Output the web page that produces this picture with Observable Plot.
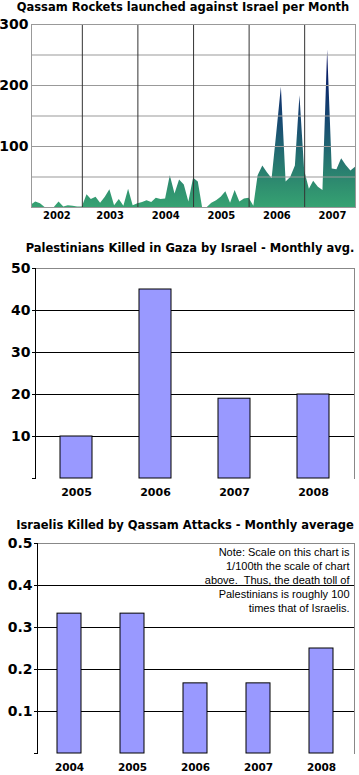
<!DOCTYPE html>
<html><head><meta charset="utf-8">
<script src="https://cdn.jsdelivr.net/npm/d3@7"></script>
<script src="https://cdn.jsdelivr.net/npm/@observablehq/plot@0.6"></script>
<style>
body{margin:0;background:#fff;}
#wrap{position:relative;width:359px;height:775px;overflow:hidden;font-family:"DejaVu Sans",Verdana,sans-serif;background:#fff;}
.title{position:absolute;transform:translateX(-50%);font-weight:bold;font-size:11.5px;line-height:14px;white-space:nowrap;color:#000;}
.chart{position:absolute;left:0;}
</style></head><body><div id="wrap"></div>
<script>
// ---------- Data ----------
const rocketTitle = "Qassam Rockets launched against Israel per Month";
const rocketStart = "2002-02-01";
const rocketCounts = [
  4, 9, 6, 0, 0, 0, 9, 1, 3, 2, 1,              // 2002 (Feb-Dec)
  1, 21, 13, 17, 7, 17, 29, 3, 13, 2, 30, 3,    // 2003
  6, 8, 11, 8, 15, 13, 14, 52, 22, 45, 37, 9,   // 2004
  48, 42, 0, 0, 7, 11, 17, 26, 7, 28, 9, 14,    // 2005
  15, 2, 52, 68, 57, 47, 120, 197, 42, 49, 68, 183, // 2006
  60, 30, 43, 33, 28, 258, 63, 62, 80, 69, 60, 66   // 2007
];
const rocketYearLabels = ["2002", "2003", "2004", "2005", "2006", "2007"];
const rocketYTicks = [100, 200, 300];
const rocketGrid = [50, 100, 150, 200, 250];

const gazaTitle = "Palestinians Killed in Gaza by Israel - Monthly avg.";
const gazaYears = ["2005", "2006", "2007", "2008"];
const gazaKilled = [10, 45, 19, 20];
const gazaTicks = [10, 20, 30, 40, 50];

const israelTitle = "Israelis Killed by Qassam Attacks - Monthly average";
const israelYears = ["2004", "2005", "2006", "2007", "2008"];
const israelKilled = [0.333, 0.333, 0.167, 0.167, 0.25];
const israelTicks = [0.1, 0.2, 0.3, 0.4, 0.5];
const noteLines = [
  "Note: Scale on this chart is",
  "1/100th the scale of chart",
  "above.  Thus, the death toll of",
  "Palestinians is roughly 100",
  "times that of Israelis."
];

// ---------- Helpers ----------
const wrap = document.getElementById("wrap");
function addTitle(text, centerX, top) {
  const d = document.createElement("div");
  d.className = "title";
  d.textContent = text;
  d.style.left = centerX + "px";
  d.style.top = top + "px";
  wrap.appendChild(d);
}
function addChart(svg, top) {
  svg.classList.add("chart");
  svg.style.top = top + "px";
  wrap.appendChild(svg);
}
const baseStyle = {fontFamily: "'DejaVu Sans', Verdana, sans-serif", fontSize: "13px", color: "black", background: "white", overflow: "visible"};

// ---------- Chart 1: rockets ----------
const months = rocketCounts.map((v, i) => ({date: d3.utcMonth.offset(new Date(rocketStart), i), value: v}));
const xStart = months[0].date, xEnd = months[months.length - 1].date;
const yearBounds = d3.utcYear.range(d3.utcYear.ceil(xStart), xEnd);
const yearLabelDates = rocketYearLabels.map(y => {
  const a = new Date(Date.UTC(+y, 0, 1));
  const s = a < xStart ? xStart : a;
  const e = new Date(Date.UTC(+y + 1, 0, 1));
  return new Date((+s + +e) / 2);
});

const p1 = Plot.plot({
  width: 359, height: 210,
  marginTop: 8, marginBottom: 19, marginLeft: 31, marginRight: 4,
  style: baseStyle,
  x: {type: "utc", domain: [xStart, xEnd], axis: null},
  y: {domain: [0, 300], axis: null},
  marks: [
    Plot.areaY(months, {x: "date", y: "value", fill: "url(#rocketGrad)"}),
    Plot.ruleY(rocketGrid, {stroke: "#999", strokeWidth: 1}),
    Plot.ruleX(yearBounds, {stroke: "#333", strokeWidth: 1}),
    Plot.frame({stroke: "#999"}),
    Plot.axisY(rocketYTicks, {label: null, tickSize: 0, tickPadding: 3, fontSize: 14, fontWeight: "bold"}),
    Plot.axisX(yearLabelDates, {label: null, tickSize: 0, tickPadding: 4, fontSize: 10, fontWeight: "bold",
      tickFormat: d => String(d.getUTCFullYear())})
  ]
});
// gradient keyed to values
{
  const ys = p1.scale("y");
  const ns = "http://www.w3.org/2000/svg";
  const defs = document.createElementNS(ns, "defs");
  const lg = document.createElementNS(ns, "linearGradient");
  lg.setAttribute("id", "rocketGrad");
  lg.setAttribute("gradientUnits", "userSpaceOnUse");
  lg.setAttribute("x1", 0); lg.setAttribute("x2", 0);
  lg.setAttribute("y1", ys.apply(0)); lg.setAttribute("y2", ys.apply(260));
  const stops = [[0, "#36a272"], [0.15, "#2e8c6f"], [0.3, "#257370"], [0.5, "#1a5072"], [0.77, "#0c2a6b"], [1, "#02085c"]];
  for (const [o, c] of stops) {
    const s = document.createElementNS(ns, "stop");
    s.setAttribute("offset", o); s.setAttribute("stop-color", c);
    lg.appendChild(s);
  }
  defs.appendChild(lg);
  p1.insertBefore(defs, p1.firstChild);
}

// ---------- Chart 2: Palestinians ----------
const gazaData = gazaYears.map((y, i) => ({year: y, value: gazaKilled[i]}));
const p2 = Plot.plot({
  width: 359, height: 245,
  marginTop: 10, marginBottom: 25, marginLeft: 35, marginRight: 5,
  style: baseStyle,
  x: {domain: gazaYears, paddingInner: 0.6, paddingOuter: 0.3, axis: null},
  y: {domain: [0, 50], axis: null},
  marks: [
    Plot.ruleY(gazaTicks.slice(0, -1), {stroke: "black"}),
    Plot.frame({anchor: "top", stroke: "#888"}),
    Plot.frame({anchor: "right", stroke: "#888"}),
    Plot.barY(gazaData, {x: "year", y: "value", fill: "#9999ff", stroke: "black", strokeWidth: 1}),
    Plot.frame({anchor: "left", stroke: "black"}),
    Plot.axisY([0, ...gazaTicks], {label: null, tickSize: 3, tickPadding: 2, fontSize: 14, fontWeight: "bold",
      tickFormat: d => d === 0 ? "" : String(d)}),
    Plot.axisX(gazaYears, {label: null, tickSize: 0, tickPadding: 10, fontSize: 11, fontWeight: "bold"})
  ]
});

// ---------- Chart 3: Israelis ----------
const israelData = israelYears.map((y, i) => ({year: y, value: israelKilled[i]}));
const p3 = Plot.plot({
  width: 359, height: 240,
  marginTop: 8, marginBottom: 22, marginLeft: 37, marginRight: 5,
  style: baseStyle,
  x: {domain: israelYears, paddingInner: 0.614, paddingOuter: 0.307, axis: null},
  y: {domain: [0, 0.5], axis: null},
  marks: [
    Plot.ruleY(israelTicks.slice(0, -1), {stroke: "black"}),
    Plot.frame({anchor: "top", stroke: "#888"}),
    Plot.frame({anchor: "right", stroke: "#888"}),
    Plot.barY(israelData, {x: "year", y: "value", fill: "#9999ff", stroke: "black", strokeWidth: 1}),
    Plot.frame({anchor: "left", stroke: "black"}),
    Plot.axisY([0, ...israelTicks], {label: null, tickSize: 3, tickPadding: 2, fontSize: 14, fontWeight: "bold",
      tickFormat: d => d === 0 ? "" : d.toFixed(1)}),
    Plot.axisX(israelYears, {label: null, tickSize: 0, tickPadding: 10, fontSize: 10.5, fontWeight: "bold"}),
    Plot.text([noteLines.join("\n")], {frameAnchor: "top-right", dx: -5, dy: 3, textAnchor: "end", lineAnchor: "top",
      lineHeight: 1.27, fontSize: 11, fontFamily: "'Liberation Sans', Arial, sans-serif", fill: "black"})
  ]
});

addTitle(rocketTitle, 183, 0);
addChart(p1, 16);
addTitle(gazaTitle, 190, 241);
addChart(p2, 258);
addTitle(israelTitle, 185, 518);
addChart(p3, 535);
</script>
</body></html>
